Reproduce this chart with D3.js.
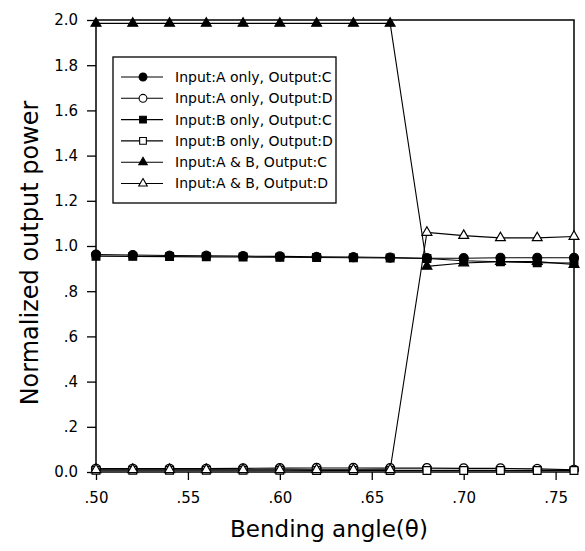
<!DOCTYPE html>
<html>
<head>
<meta charset="utf-8">
<script src="https://cdn.jsdelivr.net/npm/d3@7"></script>
<style>
  body { margin: 0; background: #fff; }
  svg { display: block; }
  text { font-family: "DejaVu Sans", sans-serif; fill: #000; }
</style>
</head>
<body>
<div id="chart"></div>
<script>
var angles = [0.50, 0.52, 0.54, 0.56, 0.58, 0.60, 0.62, 0.64, 0.66, 0.68, 0.70, 0.72, 0.74, 0.76];

var aOnlyC  = [0.962, 0.960, 0.958, 0.957, 0.955, 0.954, 0.952, 0.951, 0.949, 0.946, 0.946, 0.948, 0.948, 0.948];
var aOnlyD  = [0.015, 0.015, 0.015, 0.015, 0.016, 0.017, 0.018, 0.018, 0.017, 0.017, 0.016, 0.016, 0.014, 0.010];
var bOnlyC  = [0.955, 0.954, 0.953, 0.952, 0.951, 0.950, 0.949, 0.948, 0.947, 0.945, 0.935, 0.930, 0.926, 0.925];
var bOnlyD  = [0.008, 0.008, 0.008, 0.008, 0.008, 0.008, 0.007, 0.007, 0.007, 0.007, 0.007, 0.007, 0.007, 0.007];
var abC     = [1.985, 1.985, 1.985, 1.985, 1.985, 1.985, 1.985, 1.985, 1.985, 0.910, 0.925, 0.931, 0.931, 0.918];
var abD     = [0.010, 0.010, 0.010, 0.010, 0.010, 0.010, 0.010, 0.010, 0.010, 1.060, 1.046, 1.036, 1.036, 1.042];

var seriesNames = [
    'Input:A only, Output:C',
    'Input:A only, Output:D',
    'Input:B only, Output:C',
    'Input:B only, Output:D',
    'Input:A & B, Output:C',
    'Input:A & B, Output:D'
];
var seriesValues = [aOnlyC, aOnlyD, bOnlyC, bOnlyD, abC, abD];
var seriesShapes = ['circle', 'circle', 'square', 'square', 'triangle', 'triangle'];
var seriesFilled = [true, false, true, false, true, false];

var xTicks = [0.50, 0.55, 0.60, 0.65, 0.70, 0.75];
var yTicks = [0, 0.2, 0.4, 0.6, 0.8, 1.0, 1.2, 1.4, 1.6, 1.8, 2.0];

(function() {
    var width = 585,
        height = 551,
        pl = 96,
        pr = 574,
        pt = 20,
        pb = 472;

    var svg = d3.select('#chart').append('svg')
        .attr('width', width)
        .attr('height', height);

    var xScale = d3.scaleLinear().domain([0.50, 0.76]).range([pl, pr]),
        yScale = d3.scaleLinear().domain([0, 2.0]).range([pb, pt]);

    var shapes = {circle: d3.symbolCircle, square: d3.symbolSquare, triangle: d3.symbolTriangle},
        sizes = {circle: 64, square: 60, triangle: 42};

    var xAxis = d3.axisBottom(xScale)
        .tickValues(xTicks)
        .tickSize(8)
        .tickSizeOuter(0)
        .tickPadding(12)
        .tickFormat(function(d) { return d3.format('.2f')(d).replace(/^0/, ''); });

    var yAxis = d3.axisLeft(yScale)
        .tickValues(yTicks)
        .tickSize(9)
        .tickSizeOuter(0)
        .tickPadding(9)
        .tickFormat(function(d) {
            if (d === 0 || d >= 1) return d3.format('.1f')(d);
            return d3.format('.1f')(d).replace(/^0/, '');
        });

    var xx = svg.append('g')
        .attr('transform', 'translate(0,' + pb + ')')
        .call(xAxis);
    var yy = svg.append('g')
        .attr('transform', 'translate(' + pl + ',0)')
        .call(yAxis);

    [xx, yy].forEach(function(ax) {
        ax.select('.domain').remove();
        ax.selectAll('line').attr('stroke', '#000').attr('stroke-width', 1.3);
        ax.selectAll('text').style('font-size', '15px').style('font-family', '"DejaVu Sans", sans-serif');
    });

    // frame
    svg.append('rect')
        .attr('x', pl)
        .attr('y', pt)
        .attr('width', pr - pl)
        .attr('height', pb - pt)
        .attr('fill', 'none')
        .attr('stroke', '#000')
        .attr('stroke-width', 1.5);

    var line = d3.line()
        .x(function(d, i) { return xScale(angles[i]); })
        .y(function(d) { return yScale(d); });

    var plot = svg.append('g');

    seriesValues.forEach(function(vals) {
        plot.append('path')
            .datum(vals)
            .attr('d', line)
            .attr('fill', 'none')
            .attr('stroke', '#000')
            .attr('stroke-width', 1.1);
    });

    seriesValues.forEach(function(vals, s) {
        var sh = seriesShapes[s];
        plot.append('g').selectAll('path')
            .data(vals)
            .enter()
            .append('path')
            .attr('transform', function(d, i) { return 'translate(' + xScale(angles[i]) + ',' + yScale(d) + ')'; })
            .attr('d', d3.symbol().type(shapes[sh]).size(sizes[sh]))
            .attr('fill', seriesFilled[s] ? '#000' : '#fff')
            .attr('stroke', '#000')
            .attr('stroke-width', 1.2);
    });

    // legend
    var legend = svg.append('g');
    legend.append('rect')
        .attr('x', 113)
        .attr('y', 57)
        .attr('width', 223)
        .attr('height', 146)
        .attr('fill', '#fff')
        .attr('stroke', '#000')
        .attr('stroke-width', 1.3);

    var lrow = legend.selectAll('.lrow')
        .data(seriesNames)
        .enter()
        .append('g')
        .attr('class', 'lrow')
        .attr('transform', function(d, i) { return 'translate(0,' + (77 + i * 21.3) + ')'; });

    lrow.append('line')
        .attr('x1', 121)
        .attr('x2', 163)
        .attr('stroke', '#000')
        .attr('stroke-width', 1.1);

    lrow.append('path')
        .attr('transform', 'translate(143,0)')
        .attr('d', function(d, i) {
            var sh = seriesShapes[i];
            return d3.symbol().type(shapes[sh]).size(sizes[sh] * 0.75)();
        })
        .attr('fill', function(d, i) { return seriesFilled[i] ? '#000' : '#fff'; })
        .attr('stroke', '#000')
        .attr('stroke-width', 1.1);

    lrow.append('text')
        .attr('x', 175)
        .attr('dy', '.35em')
        .style('font-size', '14px')
        .text(function(d) { return d; });

    // axis titles
    svg.append('text')
        .attr('x', (pl + pr) / 2 - 6)
        .attr('y', 537)
        .attr('text-anchor', 'middle')
        .style('font-size', '23px')
        .text('Bending angle(\u03b8)');

    svg.append('text')
        .attr('transform', 'translate(30,253) rotate(-90)')
        .attr('text-anchor', 'middle')
        .attr('dy', '.35em')
        .style('font-size', '24px')
        .text('Normalized output power');
})();
</script>
</body>
</html>
